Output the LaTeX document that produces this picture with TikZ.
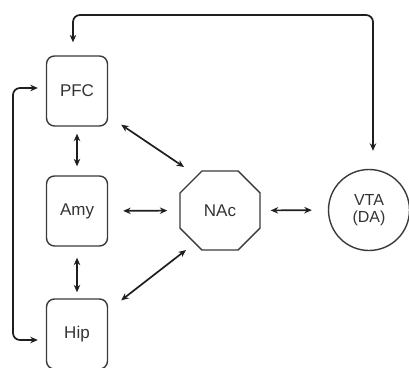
\documentclass[tikz,border=0pt]{standalone}
\usepackage{fontspec}
\setmainfont{Liberation Sans}
\usetikzlibrary{shapes.misc,arrows.meta}
\definecolor{edgec}{HTML}{3A3A3A}
\definecolor{arrc}{HTML}{1E1E1E}
\definecolor{txtc}{HTML}{333333}
\begin{document}
\begin{tikzpicture}[x=1pt,y=-1pt,
  region/.style={draw=edgec,line width=1.4pt,rounded corners=8pt,minimum width=61pt,minimum height=70pt,inner sep=0pt,text=txtc,font=\fontsize{17}{15}\selectfont},
  octa/.style={chamfered rectangle,chamfered rectangle xsep=19pt,chamfered rectangle ysep=19pt,draw=edgec,line width=1.4pt,minimum width=80pt,minimum height=79pt,inner sep=0pt,text=txtc,font=\fontsize{17}{15}\selectfont},
  roundn/.style={circle,draw=edgec,line width=1.4pt,minimum size=81pt,inner sep=0pt,text=txtc,align=center,font=\fontsize{16}{17}\selectfont},
  dbl/.style={{Stealth[length=7.5pt,width=6.5pt]}-{Stealth[length=7.5pt,width=6.5pt]},draw=arrc,line width=1.7pt},
  conn/.style={draw=arrc,line width=1.7pt,rounded corners=7pt}
]
\useasboundingbox (0,0) rectangle (409,367);
\node[region] (pfc) at (77,91) {PFC};
\node[region] (amy) at (77,211) {Amy};
\node[region] (hip) at (77,334) {Hip};
\node[octa] (nac) at (220,210.5) {NAc};
\node[roundn] (vta) at (369,210) {VTA\\(DA)};
\coordinate (top) at (200,15);
\coordinate (lft) at (13,0);
% top loop PFC <-> VTA
\draw[conn,dbl,shorten <=13pt,shorten >=18pt] ([xshift=-4pt]pfc.north) |- (top) -| ([xshift=4pt]vta.north);
% left loop PFC <-> Hip
\draw[conn,dbl] ([yshift=3pt,xshift=-8pt]pfc.west) -- ([yshift=3pt]pfc.west -| lft) -- ([yshift=-6pt]hip.west -| lft) -- ([yshift=-6pt,xshift=-8pt]hip.west);
% vertical
\draw[dbl,shorten <=7pt,shorten >=9pt] (pfc.south) -- (amy.north);
\draw[dbl,shorten <=11pt,shorten >=6pt] (amy.south) -- (hip.north);
% horizontal
\draw[dbl,shorten <=15pt,shorten >=12pt] (amy.east) -- (nac.west);
\draw[dbl,shorten <=10pt,shorten >=16pt] (nac.east) -- (vta.west);
% diagonals
\draw[dbl] ([shift={(13pt,2pt)}]pfc.south east) -- ([shift={(-36pt,43.5pt)}]nac.center);
\draw[dbl] ([shift={(13pt,-2pt)}]hip.north east) -- ([shift={(-34pt,-39.5pt)}]nac.center);
\end{tikzpicture}
\end{document}
